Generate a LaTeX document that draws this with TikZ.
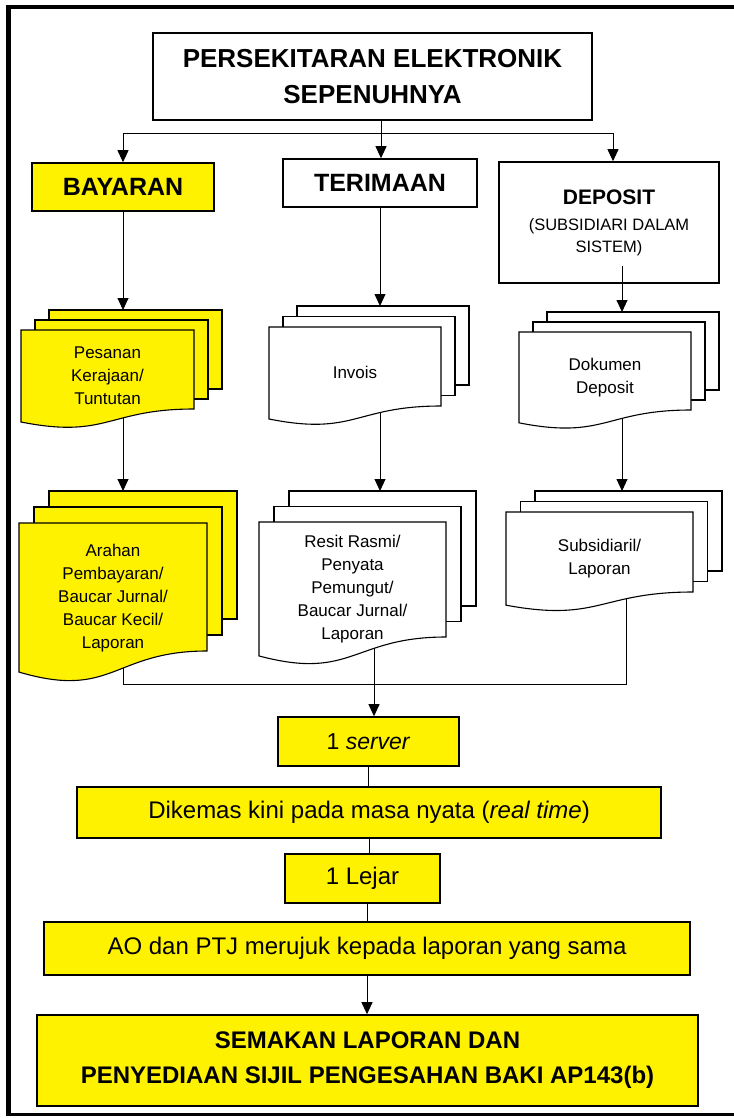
\documentclass[tikz,border=0pt]{standalone}
\usepackage{fontspec}
\setmainfont{Liberation Sans}
\usetikzlibrary{arrows.meta,backgrounds}
\tikzset{
  box/.style={draw=black, line width=1.6pt, inner sep=0pt, align=center},
  ybox/.style={box, fill=yellow},
  conn/.style={line width=0.9pt, draw=black},
  arr/.style={conn, -{Triangle[length=12pt,width=11pt]}},
  page/.style={draw=black, line width=1.1pt},
  doctext/.style={align=center, font=\fontsize{17}{23}\selectfont, inner sep=0pt},
}
% #1 name, #2 fill, #3 x0, #4 y0, #5 w, #6 r, #7 dx, #8 dy
\newcommand{\docstack}[8]{%
  \filldraw[page, fill=#2] (#3+2*#7, #4-2*#8) coordinate (#1-tl) rectangle ++(#5, #6);
  \filldraw[page, fill=#2] (#3+#7, #4-#8) rectangle ++(#5, #6);
  \filldraw[page, fill=#2] (#3,#4) -- ++(#5,0) -- ++(0,#6)
    .. controls (#3+#5/2, #4+#6) and (#3+#5/2, #4+1.3815*#6) .. (#3, #4+1.1646*#6) -- cycle;
}
\begin{document}
\begin{tikzpicture}[x=1pt,y=-1pt]
\useasboundingbox (0,0) rectangle (733,1118);
% outer frame
\draw[line width=4pt] (8,7.5) -- (740,7.5);
\draw[line width=5pt] (8.5,5.5) -- (8.5,1116);
\draw[line width=3pt] (6,1114) -- (740,1114);

% header boxes
\node[box, minimum width=439pt, minimum height=87pt, font=\fontsize{26}{36}\selectfont\bfseries] (title) at (372.5,76.5) {PERSEKITARAN ELEKTRONIK\\SEPENUHNYA};
\node[ybox, minimum width=182pt, minimum height=48pt, font=\fontsize{25}{30}\selectfont\bfseries] (bay) at (123,187) {BAYARAN};
\node[box, minimum width=194pt, minimum height=48pt, font=\fontsize{25}{30}\selectfont\bfseries] (ter) at (380,183) {TERIMAAN};
\node[box, minimum width=220pt, minimum height=121pt, font=\fontsize{16.5}{22}\selectfont] (dep) at (609,222.5) {{\fontsize{21}{25}\selectfont\bfseries DEPOSIT}\\[4pt](SUBSIDIARI DALAM\\SISTEM)};

% document stacks
\docstack{b1}{yellow}{21}{330}{173}{79}{14}{10}
\docstack{b2}{yellow}{19}{523}{188}{128}{15}{16}
\docstack{t1}{white}{269}{327}{172}{79}{14}{10.5}
\docstack{t2}{white}{259}{522}{187}{115}{15}{15.5}
\docstack{d1}{white}{519}{332}{172}{78}{14}{10}
\docstack{d2}{white}{506}{512}{187}{80}{14.5}{10.5}

\node[doctext] (b1) at (107.5,376) {Pesanan\\Kerajaan/\\Tuntutan};
\node[doctext] (b2) at (113,598) {Arahan\\Pembayaran/\\Baucar Jurnal/\\Baucar Kecil/\\Laporan};
\node[doctext] (t1) at (355,372) {Invois};
\node[doctext] (t2) at (352.5,589) {Resit Rasmi/\\Penyata\\Pemungut/\\Baucar Jurnal/\\Laporan};
\node[doctext] (d1) at (605,377.5) {Dokumen\\Deposit};
\node[doctext] (d2) at (599.5,558.5) {Subsidiaril/\\Laporan};

% bottom boxes
\node[ybox, minimum width=181pt, minimum height=49pt, font=\fontsize{23}{28}\selectfont] (server) at (368.5,741.5) {1 \textit{server}};
\node[ybox, minimum width=584pt, minimum height=51pt, font=\fontsize{24}{28}\selectfont] (dik) at (369,812.5) {Dikemas kini pada masa nyata (\textit{real time})};
\node[ybox, minimum width=155pt, minimum height=49pt, font=\fontsize{24}{28}\selectfont] (lejar) at (362.5,878.5) {1 Lejar};
\node[ybox, minimum width=646pt, minimum height=53pt, font=\fontsize{24}{28}\selectfont] (ao) at (367,948.5) {AO dan PTJ merujuk kepada laporan yang sama};
\node[ybox, minimum width=661pt, minimum height=91pt, font=\fontsize{24}{35}\selectfont\bfseries] (sem) at (367.5,1060.5) {SEMAKAN LAPORAN DAN\\PENYEDIAAN SIJIL PENGESAHAN BAKI AP143(b)};

% connectors
\coordinate (j) at (381,133);
\draw[conn] (title.south -| j) -- (j);
\draw[arr] (j) -- (j |- ter.north);
\draw[arr] (j) -| (bay.north);
\draw[arr] (j) -| ([xshift=4pt]dep.north);

\coordinate (dc) at ([xshift=13pt]dep.south);
\draw[arr] (bay.south) -- (bay.south |- b1-tl);
\draw[arr] (ter.south) -- (ter.south |- t1-tl);
\draw[arr] ([yshift=18pt]dc) -- (dc |- d1-tl);

\coordinate (jb) at (374,684);
\coordinate (jl) at (123,684);
\coordinate (jr) at (626,684);
\begin{scope}[on background layer]
\draw[arr] (bay.south |- b1) -- (bay.south |- b2-tl);
\draw[arr] (ter.south |- t1) -- (ter.south |- t2-tl);
\draw[arr] (dc |- d1) -- (dc |- d2-tl);
\draw[conn] (jl |- b2) -- (jl) -- (jr) -- (jr |- d2);
\draw[arr] (jb |- t2) -- (jb |- server.north);
\end{scope}

\draw[conn] (server.south) -- (server.south |- dik.north);
\draw[conn] (dik.south) -- (dik.south |- lejar.north);
\draw[conn] (ao.north |- lejar.south) -- (ao.north);
\draw[arr] (ao.south) -- (ao.south |- sem.north);
\end{tikzpicture}
\end{document}
